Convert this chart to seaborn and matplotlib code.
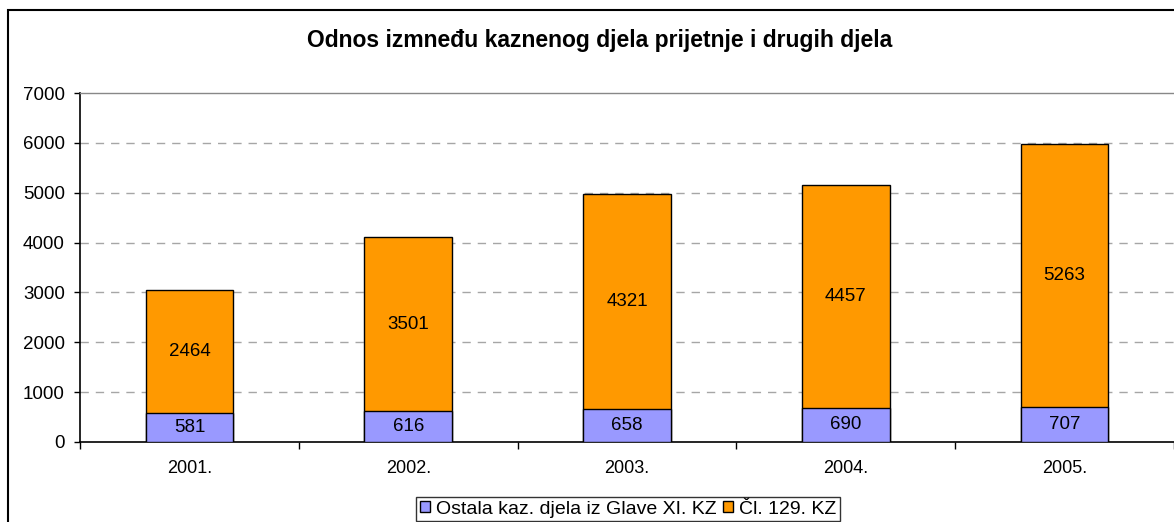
import numpy as np
import pandas as pd
import matplotlib
matplotlib.use('Agg')
import matplotlib.pyplot as plt
import seaborn as sns
from matplotlib.patches import Rectangle

godine = ['2001.', '2002.', '2003.', '2004.', '2005.']
ostala = [581, 616, 658, 690, 707]
cl129 = [2464, 3501, 4321, 4457, 5263]
naziv_ostala = 'Ostala kaz. djela iz Glave XI. KZ'
naziv_cl129 = 'Čl. 129. KZ'
naslov = 'Odnos izmneđu kaznenog djela prijetnje i drugih djela'

df = pd.DataFrame({'godina': godine, 'ostala': ostala, 'cl129': cl129})
df['ukupno'] = df['ostala'] + df['cl129']

sns.set_style('white')
plt.rcParams['font.family'] = ['Liberation Sans', 'DejaVu Sans']
plt.rcParams['text.color'] = 'black'
plt.rcParams['xtick.color'] = 'black'
plt.rcParams['ytick.color'] = 'black'

fig = plt.figure(figsize=(11.74, 5.22), dpi=100)
ax = fig.add_axes([80 / 1174, 1 - 442 / 522, 1 - 80 / 1174, (442 - 93) / 522])

# narancasti stupci = ukupno, plavi preko njih = ostala
sns.barplot(data=df, x='godina', y='ukupno', color='#FF9900', saturation=1,
            width=0.4, edgecolor='black', linewidth=1, ax=ax, zorder=3)
sns.barplot(data=df, x='godina', y='ostala', color='#9999FF', saturation=1,
            width=0.4, edgecolor='black', linewidth=1, ax=ax, zorder=3)

bars_tot = ax.containers[0]
bars_ost = ax.containers[1]
ax.bar_label(bars_ost, labels=[str(v) for v in ostala], label_type='center', fontsize=13.5)
for b, v, o in zip(bars_tot, cl129, ostala):
    ax.text(b.get_x() + b.get_width() / 2, o + v / 2, str(v),
            ha='center', va='center', fontsize=13.5, zorder=5)

ax.set_ylim(0, 7000)
ax.set_xlim(-0.5, len(godine) - 0.5)
ax.set_yticks(range(0, 7001, 1000))
ax.tick_params(axis='y', labelsize=13.5, length=4, width=1, direction='out', left=True, pad=7)
ax.tick_params(axis='x', which='major', labelsize=13, length=0, pad=13)
ax.set_xticks(np.arange(-0.5, len(godine), 1), minor=True)
ax.tick_params(axis='x', which='minor', length=5, width=1, direction='out', bottom=True)
ax.set_xlabel('')
ax.set_ylabel('')

for yv in range(1000, 7000, 1000):
    ax.axhline(yv, color='#A6A6A6', linestyle=(0, (6, 5)), linewidth=1, zorder=1)

for s in ['left', 'bottom']:
    ax.spines[s].set_color('black')
    ax.spines[s].set_linewidth(1.2)
ax.spines['top'].set_color('#888888')
ax.spines['top'].set_linewidth(1)
ax.spines['right'].set_visible(False)

fig.text(600 / 1174, 1 - 41 / 522, naslov, ha='center', va='center',
         fontsize=16.5, fontweight='bold')

handles = [Rectangle((0, 0), 1, 1, facecolor='#9999FF', edgecolor='black'),
           Rectangle((0, 0), 1, 1, facecolor='#FF9900', edgecolor='black')]
leg = fig.legend(handles, [naziv_ostala, naziv_cl129], loc='center',
                 bbox_to_anchor=(628 / 1174, 1 - 509 / 522), ncol=2, fontsize=14,
                 frameon=True, fancybox=False, edgecolor='black',
                 handlelength=0.55, handleheight=0.55, handletextpad=0.3,
                 columnspacing=0.3, borderpad=0.2)
leg.get_frame().set_linewidth(1)

# okvir grafikona
fig.patches.append(Rectangle((8 / 1174, -0.1), 1.2, 1 - 10 / 522 + 0.1,
                             transform=fig.transFigure, fill=False,
                             edgecolor='black', linewidth=1.5))

fig.savefig('out.png', dpi=100)
